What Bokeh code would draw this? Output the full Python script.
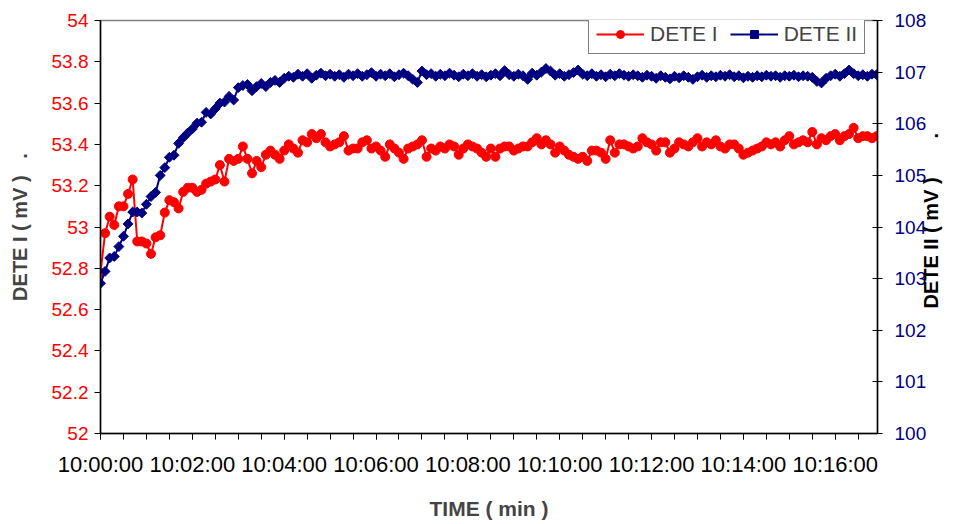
from bokeh.plotting import figure
from bokeh.models import (Range1d, LinearAxis, FixedTicker, CustomJSTickFormatter,
                          Legend, LegendItem)
from bokeh.embed import file_html
from bokeh.resources import INLINE
import numpy as np

# ---------------- data ----------------
SAMPLE_SECONDS = 6
dete1 = [52.78, 52.97, 53.05, 53.01, 53.10, 53.10, 53.16, 53.23, 52.93, 52.93,
         52.92, 52.87, 52.95, 52.96, 53.07, 53.13, 53.12, 53.09, 53.17, 53.19,
         53.19, 53.17, 53.18, 53.21, 53.22, 53.23, 53.30, 53.22, 53.33, 53.32,
         53.33, 53.39, 53.33, 53.26, 53.32, 53.29, 53.35, 53.37, 53.35, 53.33,
         53.37, 53.40, 53.38, 53.36, 53.42, 53.41, 53.45, 53.43, 53.45, 53.41,
         53.39, 53.40, 53.41, 53.44, 53.37, 53.38, 53.38, 53.41, 53.42, 53.38,
         53.39, 53.37, 53.34, 53.40, 53.38, 53.36, 53.33, 53.38, 53.39, 53.40,
         53.42, 53.34, 53.38, 53.37, 53.39, 53.38, 53.40, 53.39, 53.35, 53.38,
         53.40, 53.39, 53.38, 53.36, 53.34, 53.38, 53.34, 53.38, 53.39, 53.39,
         53.37, 53.38, 53.39, 53.39, 53.41, 53.43, 53.40, 53.42, 53.40, 53.36,
         53.39, 53.37, 53.35, 53.34, 53.33, 53.34, 53.32, 53.37, 53.37, 53.36,
         53.33, 53.42, 53.36, 53.40, 53.40, 53.39, 53.38, 53.39, 53.43, 53.41,
         53.40, 53.37, 53.41, 53.41, 53.36, 53.38, 53.41, 53.40, 53.39, 53.41,
         53.43, 53.39, 53.41, 53.40, 53.42, 53.39, 53.38, 53.40, 53.40, 53.38,
         53.35, 53.36, 53.37, 53.38, 53.39, 53.41, 53.40, 53.41, 53.39, 53.42,
         53.44, 53.40, 53.41, 53.42, 53.41, 53.46, 53.40, 53.43, 53.42, 53.44,
         53.45, 53.42, 53.44, 53.45, 53.48, 53.43, 53.44, 53.44, 53.43, 53.44]
dete2 = [102.91, 103.14, 103.40, 103.43, 103.62, 103.82, 104.06, 104.29, 104.29, 104.27,
         104.44, 104.59, 104.67, 105.00, 105.15, 105.35, 105.39, 105.62, 105.73, 105.82,
         105.90, 106.01, 106.03, 106.22, 106.19, 106.29, 106.40, 106.42, 106.53, 106.46,
         106.70, 106.74, 106.76, 106.64, 106.72, 106.78, 106.72, 106.80, 106.84, 106.80,
         106.88, 106.92, 106.90, 106.96, 106.92, 106.97, 106.88, 106.94, 106.98, 106.93,
         106.96, 106.92, 106.95, 106.90, 106.96, 106.93, 106.97, 106.92, 106.95, 106.99,
         106.92, 106.96, 106.93, 106.97, 106.91, 106.95, 106.98, 106.93, 106.86, 106.80,
         107.02, 106.95, 106.97, 106.92, 106.96, 106.93, 106.98, 106.94, 106.91, 106.96,
         106.93, 106.97, 106.92, 106.95, 106.91, 106.94, 106.97, 106.93, 107.03, 106.95,
         106.92, 106.96, 106.93, 106.86, 106.98, 106.94, 107.00, 107.07, 107.02, 106.94,
         106.97, 106.92, 106.95, 106.99, 107.04, 106.96, 106.93, 106.97, 106.92, 106.95,
         106.91, 106.96, 106.93, 106.97, 106.94, 106.92, 106.95, 106.93, 106.90, 106.94,
         106.92, 106.88, 106.93, 106.90, 106.87, 106.92, 106.89, 106.93, 106.90, 106.86,
         106.91, 106.94, 106.90, 106.93, 106.91, 106.94, 106.92, 106.95, 106.91, 106.93,
         106.89, 106.92, 106.90, 106.93, 106.91, 106.94, 106.92, 106.93, 106.90, 106.93,
         106.92, 106.94, 106.91, 106.93, 106.92, 106.90, 106.82, 106.79, 106.88, 106.93,
         106.96, 106.92, 106.97, 107.04, 106.97, 106.93, 106.95, 106.92, 106.96, 106.95]

x_tick_pos = [0, 2, 4, 6, 8, 10, 12, 14, 16]
x_tick_labels = ["10:00:00", "10:02:00", "10:04:00", "10:06:00", "10:08:00",
                 "10:10:00", "10:12:00", "10:14:00", "10:16:00"]
x_minor_pos = [0.5 * k for k in range(34)]
left_ticks = [52.0, 52.2, 52.4, 52.6, 52.8, 53.0, 53.2, 53.4, 53.6, 53.8, 54.0]
left_labels = ["52", "52.2", "52.4", "52.6", "52.8", "53", "53.2", "53.4", "53.6", "53.8", "54"]
right_ticks = [100, 101, 102, 103, 104, 105, 106, 107, 108]
right_labels = ["100", "101", "102", "103", "104", "105", "106", "107", "108"]
left_title = "DETE I ( mV )\u00a0\u00a0\u00a0."
right_title = "DETE II ( mV )\u00a0\u00a0\u00a0\u00a0\u00a0\u00a0\u00a0."

elapsed_min = np.arange(len(dete1)) * SAMPLE_SECONDS / 60.0

RED = "#FF0000"
NAVY = "#000080"
FONT = "Liberation Sans"

W, H = 957, 524
BL, BR, BT, BB = 100, 80, 20, 91
p = figure(width=W, height=H, output_backend="svg", toolbar_location=None,
           x_range=Range1d(0, 16.92), y_range=Range1d(52, 54),
           min_border_left=BL, min_border_right=BR, min_border_top=BT, min_border_bottom=BB)
p.extra_y_ranges = {"right": Range1d(100, 108)}
p.background_fill_color = "white"
p.border_fill_color = "white"
p.outline_line_color = "#808080"
p.outline_line_width = 1.5
p.xgrid.visible = False
p.ygrid.visible = False

fmt_code = """
let best = -1;
for (let i = 0; i < vals.length; i++) { if (Math.abs(vals[i] - tick) < 1e-6) best = i; }
return best >= 0 ? labels[best] : "";
"""

# x axis
xa = p.xaxis[0]
xa.ticker = FixedTicker(ticks=x_tick_pos, minor_ticks=x_minor_pos)
xa.formatter = CustomJSTickFormatter(args=dict(vals=x_tick_pos, labels=x_tick_labels), code=fmt_code)
xa.axis_label = "TIME ( min )"
xa.axis_label_text_font = FONT
xa.axis_label_text_font_style = "bold"
xa.axis_label_text_font_size = "21px"
xa.axis_label_standoff = 17
xa.major_label_text_font = FONT
xa.major_label_text_font_size = "22px"
xa.major_label_text_color = "black"
xa.major_label_standoff = 12
xa.axis_line_color = "black"
xa.axis_line_width = 1.5
xa.major_tick_in = 0
xa.major_tick_out = 6
xa.minor_tick_in = 0
xa.minor_tick_out = 6
xa.major_tick_line_color = "black"
xa.minor_tick_line_color = "black"

# left axis
ya = p.yaxis[0]
ya.ticker = FixedTicker(ticks=left_ticks, minor_ticks=[])
ya.formatter = CustomJSTickFormatter(args=dict(vals=left_ticks, labels=left_labels), code=fmt_code)
ya.axis_label = left_title
ya.axis_label_text_font = FONT
ya.axis_label_text_font_style = "bold"
ya.axis_label_text_font_size = "20px"
ya.axis_label_standoff = 18
ya.major_label_text_font = FONT
ya.major_label_text_font_size = "19px"
ya.major_label_text_color = RED
ya.major_label_standoff = 6
ya.axis_line_color = "black"
ya.axis_line_width = 1.5
ya.major_tick_in = 0
ya.major_tick_out = 6
ya.minor_tick_line_color = None

# right axis (ticks and labels)
ra = LinearAxis(y_range_name="right")
ra.ticker = FixedTicker(ticks=right_ticks, minor_ticks=[])
ra.formatter = CustomJSTickFormatter(args=dict(vals=right_ticks, labels=right_labels), code=fmt_code)
ra.major_label_text_font = FONT
ra.major_label_text_font_size = "19px"
ra.major_label_text_color = NAVY
ra.major_label_standoff = 12
ra.axis_line_color = "black"
ra.axis_line_width = 1.5
ra.major_tick_in = 5
ra.major_tick_out = 5
ra.minor_tick_line_color = None
p.add_layout(ra, "right")

# right axis title, drawn as the single rotated label of a bare axis so that it
# reads bottom-to-top like the reference; it starts where the reference text starts
TITLE_START = 102.42
rt = LinearAxis(y_range_name="right")
rt.ticker = FixedTicker(ticks=[TITLE_START], minor_ticks=[])
rt.formatter = CustomJSTickFormatter(args=dict(t=right_title), code="return t;")
rt.major_label_orientation = np.pi / 2
rt.major_label_text_font = FONT
rt.major_label_text_font_style = "bold"
rt.major_label_text_font_size = "20px"
rt.major_label_text_color = "black"
rt.major_label_standoff = 2
rt.axis_line_color = None
rt.major_tick_line_color = None
rt.minor_tick_line_color = None
rt.major_tick_out = 0
rt.major_tick_in = 0
p.add_layout(rt, "right")

# series
l1 = p.line(elapsed_min, dete1, line_color=RED, line_width=2)
s1 = p.scatter(elapsed_min, dete1, marker="circle", size=9, fill_color=RED, line_color=RED)
l2 = p.line(elapsed_min, dete2, line_color=NAVY, line_width=2, y_range_name="right")
s2 = p.scatter(elapsed_min, dete2, marker="square", angle=np.pi / 4, size=7,
               fill_color=NAVY, line_color=NAVY, y_range_name="right")

frame_h = H - BT - BB
legend = Legend(items=[LegendItem(label="DETE I", renderers=[l1, s1]),
                       LegendItem(label="DETE II", renderers=[l2, s2])],
                orientation="horizontal", location=(488, frame_h - 34),
                label_text_font=FONT, label_text_font_size="21px",
                glyph_width=48, glyph_height=20, label_standoff=6, spacing=12,
                padding=7, margin=0,
                border_line_color="black", border_line_width=1,
                background_fill_color="white", background_fill_alpha=1.0)
p.add_layout(legend, "center")

open("out.html", "w").write(file_html(p, INLINE))
